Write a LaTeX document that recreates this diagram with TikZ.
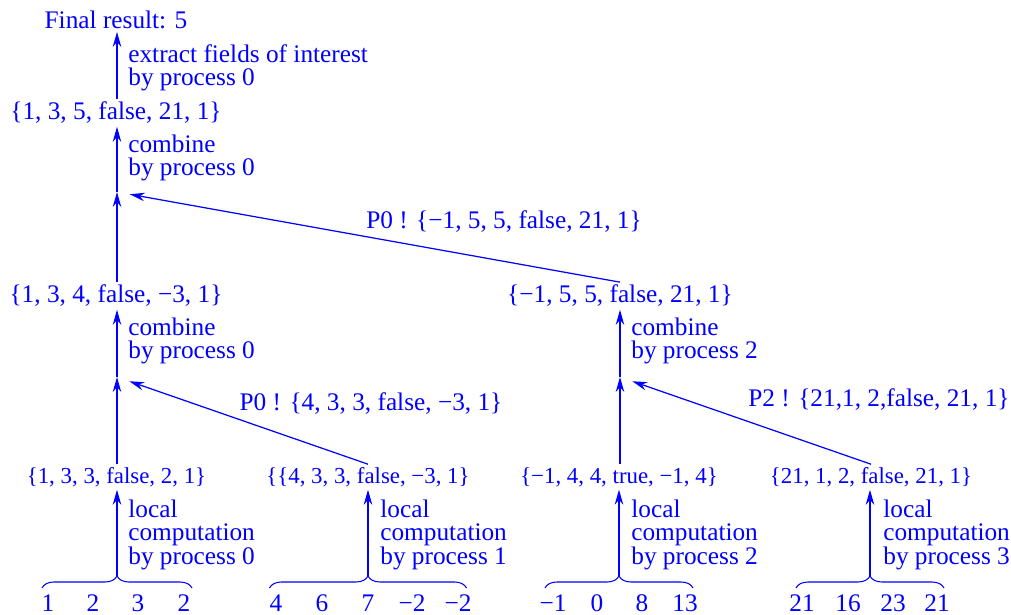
\documentclass[tikz,border=0pt]{standalone}
\usepackage{fontspec}
\setmainfont{Liberation Serif}
\usepackage{tikz}
\usetikzlibrary{arrows.meta,positioning,calc,decorations.pathreplacing}

\begin{document}
\begin{tikzpicture}[
  every node/.style={font=\fontsize{14.4}{13}\selectfont,text=blue},
  nd/.style={inner sep=1.5pt,align=center},
  sm/.style={font=\fontsize{13}{13}\selectfont},
  lb/.style={inner sep=0pt,anchor=west,align=left},
  ar/.style={blue,line width=0.7pt,-{Stealth[length=0.3cm,width=0.17cm]}},
  brc/.style={blue,line width=0.6pt,decorate,decoration={brace,amplitude=0.24cm}}]
 \useasboundingbox (0,0) rectangle (20.22,-12.3);
 % results
 \node[nd] (fin) at (2.32,-0.40) {Final result: 5};
 \node[nd] (l1)  at (2.32,-2.26) {\{1, 3, 5, false, 21, 1\}};
 \node[nd] (l2a) at (2.32,-5.92) {\{1, 3, 4, false, −3, 1\}};
 \node[nd] (l2b) at (12.40,-5.92) {\{−1, 5, 5, false, 21, 1\}};
 \node[nd,sm] (l3a) at (2.33,-9.54) {\{1, 3, 3, false, 2, 1\}};
 \node[nd,sm] (l3b) at (7.36,-9.54) {\{\{4, 3, 3, false, −3, 1\}};
 \node[nd,sm] (l3c) at (12.38,-9.54) {\{−1, 4, 4, true, −1, 4\}};
 \node[nd,sm] (l3d) at (17.42,-9.54) {\{21, 1, 2, false, 21, 1\}};
 \coordinate (j0) at (2.34,-3.84);
 \coordinate (j1) at (2.34,-7.54);
 \coordinate (j2) at (12.40,-7.54);
 % labels
 \node[lb] (ex) at (2.56,-1.36) {extract fields of interest\\by process 0};
 \node[lb] (c0) at (2.56,-3.16) {combine\\by process 0};
 \node[lb] (c1) at (2.56,-6.82) {combine\\by process 0};
 \node[lb] (c2) at (12.62,-6.82) {combine\\by process 2};
 \node[nd] (m0) at (10.08,-4.44) {P0 ! \{−1, 5, 5, false, 21, 1\}};
 \node[nd] (m1) at (7.42,-8.08) {P0 ! \{4, 3, 3, false, −3, 1\}};
 \node[nd] (m2) at (17.58,-8.00) {P2 ! \{21,1, 2,false, 21, 1\}};
 \foreach \n/\x/\p in {0/2.56/0,1/7.60/1,2/12.62/2,3/17.66/3}
   \node[lb] (loc\n) at (\x,-10.70) {local\\computation\\by process \p};
 % braces and input values
 \foreach \n/\x/\w in {0/2.34/1.50,1/7.36/1.97,2/12.38/1.48,3/17.40/1.48} {
   \coordinate (t\n) at (\x,-11.52);
   \draw[brc] ($(t\n)+(-\w,-0.24)$) -- ($(t\n)+(\w,-0.24)$);
 }
 \foreach \v/\x [count=\i] in {1/0.96,2/1.86,3/2.76,2/3.68,
     4/5.52,6/6.44,7/7.36,−2/8.24,−2/9.16,
     −1/11.06,0/11.94,8/12.84,13/13.70,
     21/16.04,16/16.96,23/17.86,21/18.74}
   \node[nd] (v\i) at (\x,-12.06) {\v};
 % arrows
 \draw[ar] (t0) -- (t0 |- l3a.south);
 \draw[ar] (t1) -- (t1 |- l3b.south);
 \draw[ar] (t2) -- (t2 |- l3c.south);
 \draw[ar] (t3) -- (t3 |- l3d.south);
 \draw[ar] (j1 |- l3a.north) -- (j1);
 \draw[ar,shorten >=0.26cm] (l3b.north) -- (j1);
 \draw[ar] (j2 |- l3c.north) -- (j2);
 \draw[ar,shorten >=0.26cm] (l3d.north) -- (j2);
 \draw[ar] (j1) -- (j1 |- l2a.south);
 \draw[ar] (j2) -- (j2 |- l2b.south);
 \draw[ar] (j0 |- l2a.north) -- (j0);
 \draw[ar,shorten >=0.26cm] (l2b.north) -- (j0);
 \draw[ar] (j0) -- (j0 |- l1.south);
 \draw[ar] (j0 |- l1.north) -- (j0 |- fin.south);
\end{tikzpicture}
\end{document}
